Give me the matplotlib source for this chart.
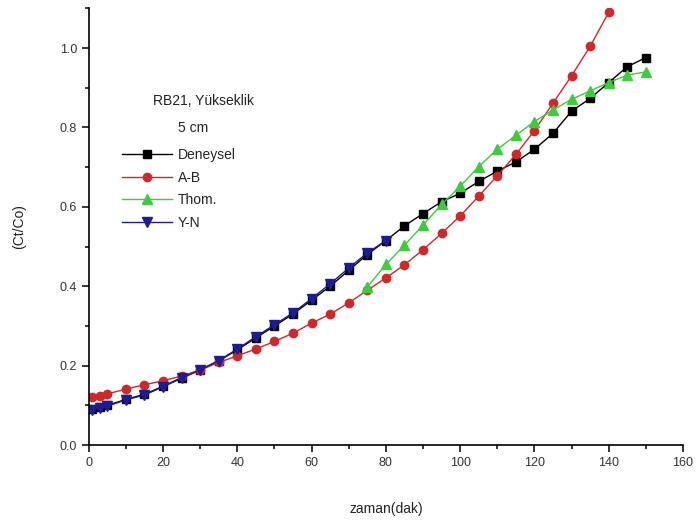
import matplotlib.pyplot as plt
from matplotlib.ticker import MultipleLocator

plt.rcParams['font.family'] = ['Liberation Sans', 'DejaVu Sans']

# Deneysel (experimental) data
x_den = [1, 3, 5, 10, 15, 20, 25, 30, 35, 40, 45, 50, 55, 60, 65, 70, 75, 80,
         85, 90, 95, 100, 105, 110, 115, 120, 125, 130, 135, 140, 145, 150]
y_den = [0.090, 0.095, 0.100, 0.115, 0.128, 0.148, 0.170, 0.190, 0.212, 0.240,
         0.270, 0.300, 0.330, 0.365, 0.400, 0.440, 0.480, 0.515,
         0.552, 0.583, 0.613, 0.634, 0.664, 0.690, 0.713, 0.745, 0.785,
         0.841, 0.873, 0.913, 0.953, 0.976]

# Adams-Bohart model
x_ab = [1, 3, 5, 10, 15, 20, 25, 30, 35, 40, 45, 50, 55, 60, 65, 70, 75, 80,
        85, 90, 95, 100, 105, 110, 115, 120, 125, 130, 135, 140]
y_ab = [0.120, 0.124, 0.129, 0.141, 0.152, 0.162, 0.174, 0.189, 0.208, 0.225,
        0.242, 0.261, 0.282, 0.307, 0.330, 0.358, 0.390, 0.421,
        0.454, 0.492, 0.533, 0.577, 0.627, 0.678, 0.732, 0.792, 0.861,
        0.930, 1.004, 1.090]

# Thomas model
x_th = [75, 80, 85, 90, 95, 100, 105, 110, 115, 120, 125, 130, 135, 140, 145, 150]
y_th = [0.398, 0.455, 0.503, 0.554, 0.606, 0.652, 0.701, 0.745, 0.780, 0.815,
        0.844, 0.871, 0.892, 0.913, 0.932, 0.940]

# Yoon-Nelson model
x_yn = [1, 3, 5, 10, 15, 20, 25, 30, 35, 40, 45, 50, 55, 60, 65, 70, 75, 80]
y_yn = [0.088, 0.093, 0.098, 0.114, 0.126, 0.147, 0.168, 0.189, 0.213, 0.242,
        0.273, 0.303, 0.333, 0.369, 0.406, 0.446, 0.484, 0.515]

fig = plt.figure(figsize=(6.99, 5.23), dpi=100)
ax = fig.add_axes([0.127, 0.149, 0.850, 0.835])

ax.plot(x_den, y_den, '-s', color='black', lw=1, ms=5.5, label='Deneysel')
ax.plot(x_ab, y_ab, '-o', color='#d02828', lw=1, ms=6, label='A-B')
ax.plot(x_th, y_th, '-^', color='#3ccc3c', lw=1, ms=6.5, label='Thom.')
ax.plot(x_yn, y_yn, '-v', color='#1c1c96', lw=1, ms=6.5, label='Y-N')

ax.set_xlim(0, 160)
ax.set_ylim(0, 1.1)
ax.xaxis.set_major_locator(MultipleLocator(20))
ax.xaxis.set_minor_locator(MultipleLocator(10))
ax.yaxis.set_major_locator(MultipleLocator(0.2))
ax.yaxis.set_minor_locator(MultipleLocator(0.1))
ax.yaxis.set_major_formatter(plt.FormatStrFormatter('%.1f'))

for side in ['top', 'right']:
    ax.spines[side].set_visible(False)
for side in ['left', 'bottom']:
    ax.spines[side].set_linewidth(1.2)

ax.tick_params(which='major', direction='out', length=5, width=1.1,
               labelsize=9, labelcolor='#333333')
ax.tick_params(which='minor', direction='out', length=3, width=1.1)

ax.set_xlabel('zaman(dak)', fontsize=10, color='#222222', labelpad=24)
ax.set_ylabel('(Ct/Co)', fontsize=10, color='#222222', labelpad=24)

# legend title written as plain text like in Origin
fig.text(153 / 699, 1 - 101 / 523, 'RB21, Yükseklik', fontsize=10,
         color='#222222', va='center')
fig.text(178 / 699, 1 - 128 / 523, '5 cm', fontsize=10,
         color='#222222', va='center')
ax.legend(loc='upper left', bbox_to_anchor=(122 / 699, 1 - 148 / 523),
          bbox_transform=fig.transFigure, frameon=False, fontsize=10,
          handlelength=3.6, handletextpad=0.4, labelspacing=0.62,
          borderaxespad=0, borderpad=0, labelcolor='#222222')

fig.savefig('out.png', dpi=100)
